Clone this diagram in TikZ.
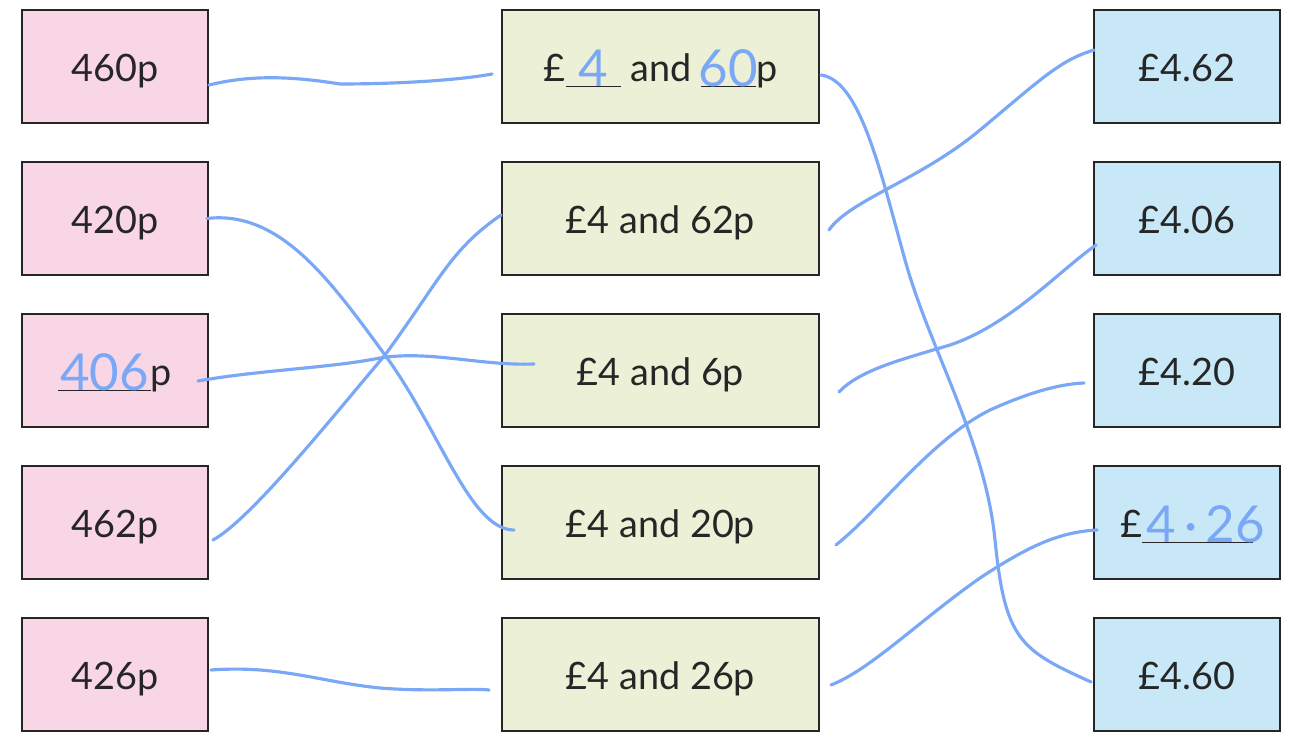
\documentclass[tikz,border=0pt]{standalone}
\usepackage{fontspec}
\setmainfont{Lato}
\usetikzlibrary{calc}
\definecolor{pinkcard}{RGB}{249,214,229}
\definecolor{greencard}{RGB}{235,240,214}
\definecolor{bluecard}{RGB}{200,232,248}
\definecolor{ink}{RGB}{122,168,246}
\definecolor{edge}{RGB}{38,38,38}
% blank with a handwritten answer on it
\newcommand{\fillin}[2]{\rlap{\rule[-0.13em]{#1}{0.6pt}}\makebox[#1][c]{\raisebox{-0.13em}{\color{ink}\fontsize{29}{29}\selectfont #2}}}

\begin{document}
\begin{tikzpicture}[x=0.02cm, y=-0.02cm,
  card/.style={draw=edge, line width=1.1pt, minimum width=3.72cm, minimum height=2.26cm,
    inner sep=0pt, text height=17.5pt, text depth=0pt, text=black!85,
    font=\fontsize{21.5}{25}\selectfont},
  pence/.style={card, fill=pinkcard},
  split/.style={card, fill=greencard, minimum width=6.34cm},
  pounds/.style={card, fill=bluecard},
  match/.style={ink, line width=1.8pt, line cap=round, line join=round}]
\useasboundingbox (0,0) rectangle (1290,732);
% Pence column
\foreach \i/\t in {1/460p, 2/420p, 3/{\fillin{1.86cm}{406}p}, 4/462p, 5/426p}
  \node[pence] (p\i) at (115, {66.5+152*(\i-1)}) {\t};
% Pounds and pence column
\foreach \i/\t in {1/{£\fillin{1.1cm}{4} and \fillin{1.1cm}{60}p}, 2/£4 and 62p,
    3/£4 and 6p, 4/£4 and 20p, 5/£4 and 26p}
  \node[split] (m\i) at (660.5, {66.5+152*(\i-1)}) {\t};
% Decimal column
\foreach \i/\t in {1/£4.62, 2/£4.06, 3/£4.20, 4/{£\fillin{2.22cm}{\hspace{0.3em}4\,·\,26}}, 5/£4.60}
  \node[pounds] (r\i) at (1187, {66.5+152*(\i-1)}) {\t};
% Left matches
\draw[match] ($(p1.east)+(0,18.5)$) .. controls (250,75) and (290,76) .. (340,84)
  .. controls (400,84) and (460,80) .. ($(m1.west)+(-9,7.5)$);
\draw[match] ($(p2.east)+(-2,0)$) .. controls (280,210) and (330,280) .. (385,355)
  .. controls (440,430) and (470,530) .. ($(m4.west)+(13,7.5)$);
\draw[match] ($(p3.east)+(-11,10.5)$) .. controls (260,370) and (330,368) .. (380,358)
  .. controls (430,350) and (480,366) .. ($(m3.west)+(33,-6.5)$);
\draw[match] ($(p4.east)+(4,17.5)$) .. controls (250,520) and (330,420) .. (385,355)
  .. controls (440,280) and (450,250) .. ($(m2.west)+(0,-3.5)$);
\draw[match] ($(p5.east)+(2,-4.5)$) .. controls (280,665) and (320,682) .. (380,688)
  .. controls (430,692) and (470,688) .. ($(m5.west)+(-12,15.5)$);
% Right matches
\draw[match] ($(m1.east)+(1,8.5)$) .. controls (860,80) and (880,170) .. (905,260)
  .. controls (930,350) and (985,440) .. (995,540)
  .. controls (1005,640) and (1020,650) .. ($(r5.west)+(-2,7.5)$);
\draw[match] ($(m2.east)+(9,11.5)$) .. controls (850,200) and (920,180) .. (980,130)
  .. controls (1040,80) and (1060,60) .. ($(r1.west)+(1,-16.5)$);
\draw[match] ($(m3.east)+(19,21.5)$) .. controls (860,370) and (900,360) .. (950,345)
  .. controls (1010,325) and (1060,270) .. ($(r2.west)+(3,26.5)$);
\draw[match] ($(m4.east)+(16,22.5)$) .. controls (880,510) and (930,440) .. (990,410)
  .. controls (1030,392) and (1060,384) .. ($(r3.west)+(-9,12.5)$);
\draw[match] ($(m5.east)+(11,10.5)$) .. controls (870,670) and (920,620) .. (980,578)
  .. controls (1030,545) and (1060,532) .. ($(r4.west)+(4,7.5)$);
\end{tikzpicture}
\end{document}
